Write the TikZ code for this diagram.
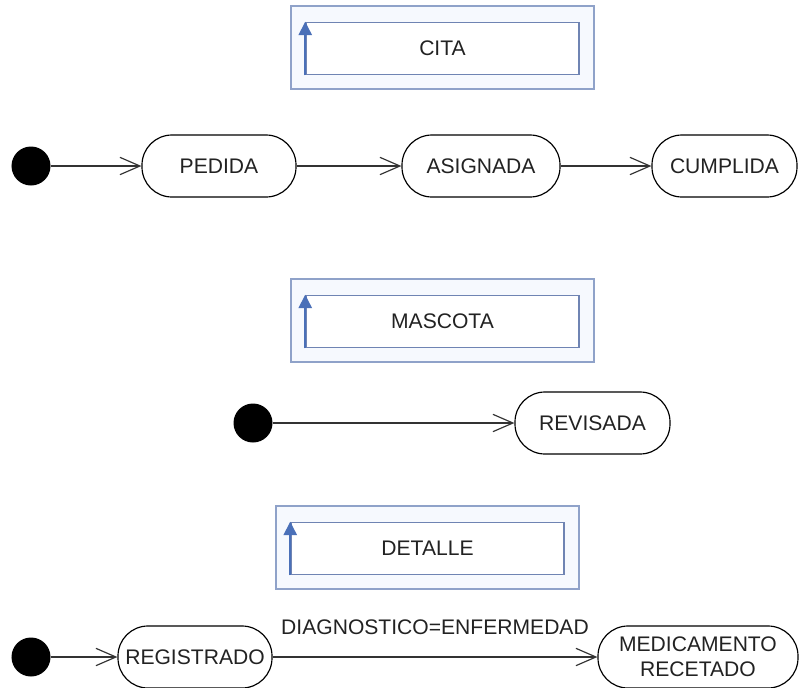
\documentclass[tikz,border=0pt]{standalone}
\usepackage{fontspec}
\setmainfont{Liberation Sans}
\usetikzlibrary{arrows.meta,positioning}
\definecolor{classline}{HTML}{8FA2C9}
\definecolor{classedge}{HTML}{6F84B3}
\definecolor{classarrow}{HTML}{4A70B8}
\definecolor{classbg}{HTML}{F6F9FE}
\definecolor{wire}{HTML}{333333}
\definecolor{ink}{HTML}{222222}

\tikzset{
  statebox/.style={draw=black, line width=1pt, rounded corners=0.9cm, fill=white,
    minimum height=1.86cm, inner sep=0pt, text=ink, font=\fontsize{18}{21}\selectfont},
  startdot/.style={circle, fill=black, minimum size=1.17cm, inner sep=0pt},
  trans/.style={draw=wire, line width=1pt, -{Straight Barb[length=0.6cm, width=0.52cm, line width=1pt]}},
  translabel/.style={inner sep=0pt, text=ink, font=\fontsize{18}{21}\selectfont},
  classouter/.style={draw=classline, line width=1.3pt, fill=classbg, inner sep=0pt},
  classinner/.style={draw=classedge, line width=1.3pt, fill=white, inner sep=0pt,
    text=ink, font=\fontsize{18}{21}\selectfont},
  selfarrow/.style={draw=classarrow, line width=1.3pt, -{Triangle[length=0.4cm, width=0.4cm]}}
}

\begin{document}
\begin{tikzpicture}[x=0.03cm, y=-0.03cm]
  \useasboundingbox (0,0) rectangle (799,687);

  % Class headers
  \foreach \name/\txt/\cx/\cy in {cita/CITA/442.5/47.5, mascota/MASCOTA/442.5/320.5, detalle/DETALLE/427.5/547.5} {
    \node[classouter, minimum width=9.09cm, minimum height=2.5cm] (\name box) at (\cx,\cy) {};
    \node[classinner, minimum width=8.19cm, minimum height=1.56cm] (\name) at (\cx,\cy+1) {\txt};
    \draw[selfarrow] (\name.south west) -- (\name.north west);
  }

  % CITA states
  \node[startdot] (citastart) at (31,166) {};
  \node[statebox, minimum width=4.62cm] (pedida) at (219,166) {PEDIDA};
  \node[statebox, minimum width=4.74cm] (asignada) at (481,166) {ASIGNADA};
  \node[statebox, minimum width=4.35cm] (cumplida) at (724.5,166) {CUMPLIDA};
  \draw[trans] (citastart) -- (pedida);
  \draw[trans] (pedida) -- (asignada);
  \draw[trans] (asignada) -- (cumplida);

  % MASCOTA states
  \node[startdot] (mascotastart) at (253,423) {};
  \node[statebox, minimum width=4.65cm] (revisada) at (592.5,423) {REVISADA};
  \draw[trans] (mascotastart) -- (revisada);

  % DETALLE states
  \node[startdot] (detallestart) at (31,657) {};
  \node[statebox, minimum width=4.62cm] (registrado) at (195,657) {REGISTRADO};
  \node[statebox, minimum width=6cm, align=center] (medicamento) at (698,657) {MEDICAMENTO\\RECETADO};
  \draw[trans] (detallestart) -- (registrado);
  \draw[trans] (registrado) -- node[translabel, midway, above=0.66cm] {DIAGNOSTICO=ENFERMEDAD} (medicamento);
\end{tikzpicture}
\end{document}
